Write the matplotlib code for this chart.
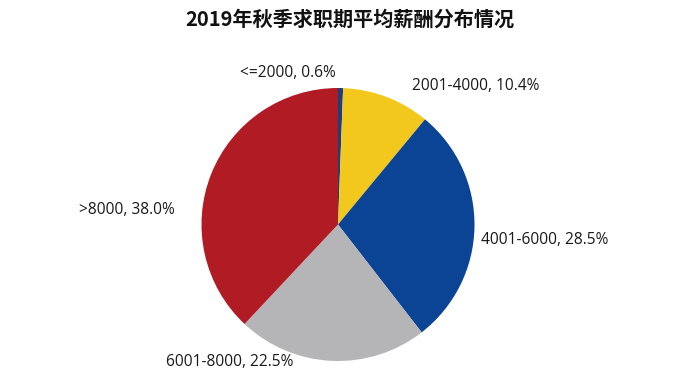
import matplotlib
matplotlib.use("Agg")
import matplotlib.pyplot as plt

plt.rcParams['font.family'] = ['Noto Sans CJK SC', 'DejaVu Sans']

title = "2019年秋季求职期平均薪酬分布情况"
categories = ["<=2000", "2001-4000", "4001-6000", "6001-8000", ">8000"]
values = [0.6, 10.4, 28.5, 22.5, 38.0]
colors = ["#1F3F7A", "#F3C81D", "#0B4494", "#B5B5B7", "#B11C24"]

# label anchor (left edge x px, center y px) in a 700x385 canvas
label_pos = [(240, 73), (412, 86), (481, 240), (166, 362), (79, 210)]

W, H = 700, 385
fig = plt.figure(figsize=(W / 100, H / 100), dpi=100)
cx, cy, r = 338, 224.5, 136.5
ax = fig.add_axes([(cx - r) / W, (H - cy - r) / H, 2 * r / W, 2 * r / H])
ax.pie(values, colors=colors, startangle=90, counterclock=False,
       radius=1.0, wedgeprops=dict(linewidth=0))
ax.set_xlim(-1, 1)
ax.set_ylim(-1, 1)
ax.set_aspect('equal')
ax.axis('off')

for cat, v, (px, py) in zip(categories, values, label_pos):
    fig.text(px / W, 1 - py / H, f"{cat}, {v:.1f}%", ha='left', va='center',
             fontsize=11.2, color='#1a1a1a', family=['Open Sans', 'DejaVu Sans'])

fig.text(0.5, 1 - 19 / H, title, ha='center', va='center', fontsize=14.5,
         fontweight='bold', color='#111111')

fig.savefig("out.png", dpi=100, facecolor='white')
